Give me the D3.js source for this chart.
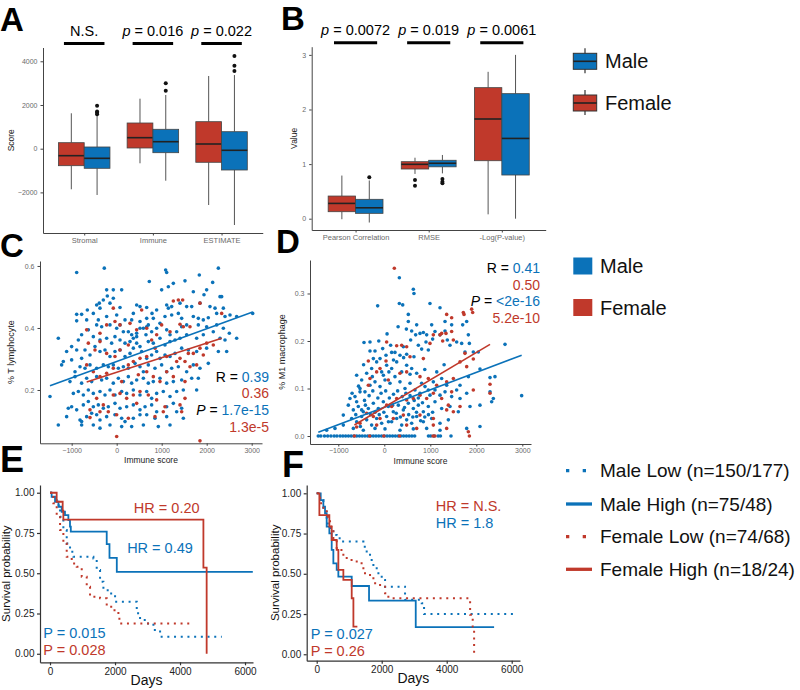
<!DOCTYPE html>
<html><head><meta charset="utf-8">
<script src="https://cdn.jsdelivr.net/npm/d3@7/dist/d3.min.js"></script>
<style>html,body{margin:0;padding:0;background:#fff;}</style>
</head><body>
<svg id="fig" width="800" height="690" xmlns="http://www.w3.org/2000/svg"></svg>
<script>
const RED = "#C0392B", BLUE = "#0B72B9";
const FONT = '"Liberation Sans", Arial, Helvetica, sans-serif';

// ---------- Panel A data (min, Q1, median, Q3, max) ----------
const scoreCats = ["Stromal", "Immune", "ESTIMATE"];
const scoreFemale = [[-1858,-778,-320,275,1620],[-668,32,504,1176,2289],[-2577,-622,215,1236,3327]];
const scoreMale = [[-2119,-897,-440,78,1500],[-1465,-183,320,888,2457],[-3492,-975,-73,778,3370]];
const scoreFemaleOut = [[],[],[]];
const scoreMaleOut = [[1960,1700,1640,1580],[2993,2655],[4243,3800,3556]];
const scoreP = ["N.S.","0.016","0.022"];
const scoreTicks = [-2000,0,2000,4000];

// ---------- Panel B data ----------
const valueCats = ["Pearson Correlation","RMSE","-Log(P-value)"];
const valueFemale = [[-0.01,0.128,0.28,0.415,0.79],[0.82,0.91,0.996,1.044,1.117],[0.08,1.062,1.826,2.4,2.69]];
const valueMale = [[-0.07,0.098,0.2,0.355,0.70],[0.83,0.95,1.015,1.07,1.167],[0.0,0.8,1.47,2.29,3.0]];
const valueFemaleOut = [[],[0.71,0.605],[]];
const valueMaleOut = [[0.76],[0.727,0.678,0.65],[]];
const valueP = ["0.0072","0.019","0.0061"];
const valueTicks = [0,1,2,3];

// ---------- Panel C data: [immune score, % T lymphocyte] ----------
const cMale = [[-889,0.579],[-275,0.593],[1088,0.587],[1111,0.579],[2259,0.593],[1836,0.571],[725,0.55],[1518,0.552],[2133,0.547],[1259,0.544],[1148,0.533],[999,0.523],[1703,0.517],[1999,0.523],[1940,0.507],[2296,0.501],[2333,0.501],[-223,0.523],[-75,0.523],[111,0.523],[-208,0.503],[-297,0.49],[-386,0.48],[-75,0.496],[-149,0.48],[-371,0.464],[74,0.466],[444,0.474],[518,0.469],[667,0.466],[370,0.447],[785,0.447],[888,0.458],[1111,0.474],[1148,0.464],[1222,0.469],[1407,0.48],[1555,0.469],[1667,0.469],[1851,0.48],[2073,0.469],[2185,0.464],[2370,0.464],[-889,0.444],[-779,0.444],[-652,0.458],[-519,0.447],[-445,0.474],[-408,0.426],[-223,0.437],[0,0.442],[185,0.426],[333,0.426],[518,0.421],[667,0.431],[814,0.431],[962,0.415],[1073,0.437],[1222,0.442],[1370,0.447],[1444,0.431],[1703,0.437],[1814,0.431],[1925,0.426],[2036,0.433],[2222,0.447],[2407,0.437],[2518,0.442],[2666,0.437],[3022,0.447],[-889,0.423],[-667,0.426],[-445,0.41],[-334,0.404],[-149,0.41],[0,0.399],[74,0.41],[148,0.388],[259,0.388],[333,0.378],[444,0.383],[518,0.399],[593,0.399],[667,0.404],[703,0.41],[370,0.367],[444,0.372],[651,0.378],[777,0.388],[888,0.399],[1111,0.394],[1185,0.378],[1333,0.388],[1444,0.404],[1555,0.41],[1814,0.41],[1999,0.404],[2222,0.41],[2370,0.399],[2503,0.383],[2666,0.367],[-1297,0.367],[-1112,0.324],[-1001,0.34],[-852,0.361],[-779,0.378],[-630,0.394],[-519,0.372],[-371,0.361],[-223,0.367],[-112,0.351],[-38,0.372],[74,0.361],[185,0.351],[296,0.356],[444,0.351],[518,0.34],[703,0.356],[814,0.351],[962,0.367],[1073,0.345],[1185,0.356],[1296,0.361],[1407,0.367],[1555,0.378],[1777,0.367],[1925,0.378],[2147,0.388],[2296,0.367],[2407,0.361],[2444,0.324],[-1186,0.292],[-1001,0.297],[-889,0.329],[-779,0.302],[-704,0.329],[-593,0.313],[-482,0.34],[-371,0.324],[-260,0.329],[-149,0.308],[-38,0.324],[74,0.329],[185,0.308],[296,0.318],[370,0.335],[555,0.324],[667,0.302],[777,0.313],[888,0.324],[962,0.302],[1073,0.313],[1185,0.308],[1296,0.318],[1444,0.335],[1592,0.329],[1777,0.324],[1999,0.335],[2259,0.324],[-1482,0.179],[-1223,0.281],[-926,0.259],[-815,0.275],[-704,0.27],[-593,0.281],[-445,0.27],[-297,0.281],[-186,0.275],[-75,0.281],[37,0.27],[148,0.275],[259,0.27],[407,0.286],[518,0.275],[593,0.259],[703,0.281],[851,0.27],[999,0.281],[1111,0.259],[1222,0.27],[1370,0.275],[1555,0.259],[1703,0.281],[1851,0.27],[2036,0.286],[-1038,0.227],[-926,0.243],[-779,0.222],[-667,0.238],[-556,0.227],[-445,0.243],[-334,0.232],[-223,0.238],[-75,0.222],[37,0.238],[148,0.227],[259,0.243],[333,0.222],[444,0.232],[593,0.238],[703,0.222],[814,0.227],[962,0.238],[1111,0.222],[1259,0.227],[1444,0.232],[1667,0.238],[1814,0.238],[-963,0.189],[-852,0.195],[-741,0.184],[-630,0.2],[-519,0.189],[-371,0.195],[-260,0.184],[-149,0.2],[-38,0.184],[111,0.195],[222,0.189],[370,0.2],[518,0.184],[667,0.195],[777,0.173],[888,0.189],[1036,0.195],[1185,0.179],[1333,0.195],[1481,0.2],[1777,0.2],[-1075,0.141],[-1001,0.146],[-889,0.136],[-741,0.152],[-630,0.163],[-519,0.146],[-408,0.152],[-297,0.141],[-186,0.146],[-38,0.157],[74,0.141],[222,0.146],[370,0.152],[518,0.136],[630,0.146],[777,0.152],[888,0.13],[1111,0.146],[1259,0.157],[1444,0.141],[-1297,0.087],[-1112,0.114],[-815,0.103],[-779,0.098],[-667,0.114],[-556,0.125],[-445,0.12],[-371,0.103],[-223,0.114],[-38,0.12],[111,0.109],[185,0.098],[370,0.109],[518,0.12],[667,0.12],[851,0.109],[1111,0.114],[1333,0.13],[1481,0.109],[-779,0.087],[-519,0.087],[-371,0.077],[-149,0.087],[111,0.082],[333,0.082],[593,0.087],[925,0.082],[1185,0.087]];
const cFemale = [[-75,0.464],[555,0.458],[1259,0.487],[1370,0.49],[1466,0.49],[1851,0.48],[2333,0.447],[-667,0.394],[-371,0.383],[-223,0.41],[-38,0.421],[74,0.41],[296,0.415],[444,0.394],[667,0.399],[777,0.361],[888,0.378],[999,0.41],[1185,0.388],[1407,0.412],[1481,0.404],[1629,0.404],[-630,0.351],[-482,0.329],[-371,0.356],[-223,0.318],[-38,0.308],[74,0.329],[259,0.345],[370,0.292],[518,0.302],[667,0.308],[851,0.335],[1111,0.308],[1333,0.292],[1407,0.302],[1518,0.292],[1592,0.318],[1703,0.318],[1851,0.335],[1999,0.351],[2147,0.345],[-667,0.281],[-519,0.259],[-371,0.243],[-223,0.254],[-75,0.27],[111,0.227],[259,0.281],[481,0.249],[667,0.259],[814,0.243],[962,0.227],[1111,0.259],[1259,0.243],[1518,0.227],[1629,0.275],[1777,0.281],[1925,0.313],[-593,0.136],[-445,0.173],[-297,0.152],[-75,0.184],[74,0.189],[222,0.173],[370,0.184],[518,0.195],[703,0.184],[888,0.168],[1073,0.146],[1407,0.152],[1518,0.173],[-593,0.111],[-371,0.13],[-186,0.13],[0,0.12],[259,0.109],[444,0.157],[851,0.114],[1036,0.13],[1444,0.13],[0,0.05],[1851,0.036]];
const cFitMale = [0.292, 0.0000528];     // intercept, slope
const cFitFemale = [0.257, 0.000047];
const cR = ["0.39","0.36"], cP = ["1.7e-15","1.3e-5"];

// ---------- Panel D data: [immune score, % M1 macrophage] ----------
const dMale = [[327,0.333],[631,0.309],[645,0.3],[327,0.279],[400,0.276],[-144,0.274],[993,0.279],[1211,0.27],[849,0.218],[776,0.216],[522,0.256],[522,0.241],[704,0.234],[595,0.221],[-441,0.197],[-202,0.179],[160,0.176],[232,0.176],[341,0.17],[486,0.172],[645,0.167],[740,0.191],[812,0.183],[906,0.198],[957,0.181],[1051,0.204],[1211,0.213],[1320,0.221],[1370,0.202],[1428,0.191],[1573,0.198],[1682,0.195],[1827,0.213],[1849,0.195],[1754,0.177],[1935,0.177],[2044,0.177],[2624,0.193],[2080,0.141],[2298,0.123],[2406,0.125],[2298,0.093],[2370,0.079],[2334,0.072],[2986,0.085],[2080,0.065],[1827,0.125],[1646,0.107],[1573,0.097],[1356,0.107],[1247,0.121],[1066,0.114],[957,0.097],[812,0.111],[704,0.132],[595,0.142],[486,0.149],[378,0.135],[269,0.156],[160,0.142],[51,0.149],[-57,0.135],[-166,0.156],[-275,0.142],[-383,0.132],[-492,0.118],[-601,0.128],[-746,0.079],[-637,0.083],[-528,0.1],[-420,0.093],[-311,0.107],[-202,0.114],[-93,0.104],[15,0.118],[124,0.111],[232,0.125],[341,0.114],[450,0.1],[559,0.111],[667,0.097],[776,0.09],[885,0.104],[993,0.086],[1102,0.097],[1211,0.086],[1320,0.093],[1464,0.083],[1646,0.079],[1791,0.09],[-782,0.065],[-673,0.055],[-565,0.062],[-456,0.051],[-347,0.058],[-238,0.069],[-130,0.058],[-21,0.072],[88,0.062],[196,0.051],[305,0.065],[414,0.055],[522,0.069],[631,0.058],[740,0.065],[849,0.051],[957,0.062],[1102,0.072],[1247,0.058],[1428,0.062],[1609,0.051],[1863,0.062],[-891,0.044],[-709,0.037],[-601,0.03],[-492,0.041],[-383,0.034],[-275,0.023],[-166,0.037],[-57,0.027],[51,0.041],[160,0.03],[269,0.037],[378,0.023],[486,0.034],[595,0.027],[704,0.041],[849,0.03],[1030,0.037],[1211,0.027],[1392,0.034],[-891,0.023],[-1072,0.016],[-1253,0.012],[-673,0.016],[-456,0.012],[-202,0.016],[15,0.015],[341,0.012],[631,0.015],[921,0.016],[1211,0.012],[1791,0.016],[2080,0.02],[-311,0.179],[-238,0.163],[-93,0.163],[-35,0.184],[37,0.17],[138,0.191],[414,0.188],[573,0.202],[682,0.213],[921,0.213],[1030,0.234],[1102,0.22],[1320,0.241],[1464,0.234],[1704,0.234],[1791,0.241],[-311,0.198],[-528,0.093],[-601,0.072],[-492,0.055],[-700,0.09],[-560,0.105],[-430,0.075],[-330,0.085],[-250,0.095],[-140,0.08],[-70,0.09],[30,0.095],[110,0.08],[200,0.088],[290,0.095],[390,0.083],[470,0.09],[560,0.085],[650,0.075],[740,0.08],[830,0.07],[-620,0.045],[-520,0.02],[-410,0.065],[-300,0.045],[-200,0.05],[-110,0.045],[-10,0.05],[90,0.03],[180,0.065],[260,0.048],[350,0.04],[440,0.06],[530,0.045],[620,0.04],[700,0.05],[790,0.032],[880,0.04],[960,0.045],[1050,0.05],[-450,0.15],[-260,0.125],[-20,0.128],[100,0.135],[200,0.16],[420,0.165],[560,0.13],[880,0.14],[1140,0.135],[1300,0.15],[-120,0.2],[60,0.215],[300,0.23],[480,0.225],[-1435,0],[-1380,0],[-1300,0],[-1230,0],[-1160,0],[-1090,0],[-1030,0],[-960,0],[-900,0],[-840,0],[-780,0],[-720,0],[-660,0],[-600,0],[-540,0],[-480,0],[-420,0],[-360,0],[-300,0],[-240,0],[-180,0],[-120,0],[-60,0],[0,0],[60,0],[120,0],[180,0],[240,0],[300,0],[360,0],[420,0],[480,0],[540,0],[600,0],[660,0],[960,0],[1010,0],[1080,0],[1170,0],[1220,0],[1450,0]];
const dFemale = [[218,0.353],[1356,0.256],[1464,0.249],[1718,0.26],[1733,0.256],[1899,0.267],[1921,0.26],[1066,0.213],[1247,0.216],[-347,0.158],[51,0.198],[37,0.158],[269,0.19],[378,0.191],[486,0.188],[559,0.167],[849,0.163],[993,0.195],[1211,0.213],[1269,0.2],[1341,0.216],[1464,0.22],[1501,0.202],[1646,0.156],[1754,0.174],[1935,0.162],[-347,0.107],[-311,0.121],[-166,0.135],[-93,0.142],[88,0.118],[341,0.132],[486,0.135],[776,0.125],[957,0.121],[1138,0.107],[1356,0.114],[1501,0.121],[1791,0.146],[1935,0.097],[2298,0.109],[2298,0.09],[269,0.079],[486,0.076],[631,0.079],[776,0.086],[921,0.079],[1066,0.09],[1247,0.079],[1392,0.065],[1464,0.093],[51,0.065],[160,0.062],[-383,0.048],[-238,0.041],[-93,0.037],[196,0.037],[414,0.044],[776,0.044],[1066,0.037],[1356,0.055],[1501,0.051],[1646,0.062],[-528,0.027],[-601,0.019],[-166,0.023],[486,0.023],[704,0.016],[1066,0.023],[1356,0.016],[1827,0.009],[-650,0],[-320,0],[-10,0],[330,0],[1060,0],[1100,0],[1850,0]];
const dFitMale = [0.0605, 0.0000367];
const dFitFemale = [0.0606, 0.0000576];
const dR = ["0.41","0.50"], dP = ["<2e-16","5.2e-10"];

// ---------- Panel E/F data: Kaplan-Meier steps [days, survival] ----------
const eMaleLow = [[0,1],[103,0.954],[206,0.923],[309,0.851],[411,0.768],[514,0.685],[617,0.633],[719,0.602],[1335,0.592],[1437,0.52],[1540,0.447],[1643,0.395],[1848,0.375],[2002,0.323],[2669,0.251],[2771,0.209],[2977,0.188],[3182,0.147],[3387,0.106],[5285,0.106]];
const eMaleHigh = [[0,1],[50,0.975],[155,0.944],[260,0.913],[360,0.882],[460,0.861],[565,0.83],[615,0.789],[640,0.758],[1745,0.681],[1830,0.596],[2055,0.509],[6240,0.509]];
const eFemaleLow = [[0,1],[103,0.934],[206,0.862],[309,0.768],[411,0.685],[514,0.602],[668,0.561],[822,0.54],[976,0.478],[1130,0.416],[1232,0.354],[1540,0.344],[1745,0.292],[1950,0.271],[2104,0.23],[2135,0.188],[4310,0.188]];
const eFemaleHigh = [[0,1],[205,0.944],[390,0.889],[410,0.833],[4720,0.535],[4820,0]];
const fMaleLow = [[0,1],[102,0.958],[205,0.886],[307,0.813],[410,0.772],[512,0.741],[615,0.72],[769,0.7],[1436,0.668],[1538,0.627],[1641,0.586],[1744,0.544],[1846,0.503],[2000,0.462],[2103,0.42],[2718,0.338],[3231,0.317],[3303,0.25],[6155,0.25]];
const fMaleHigh = [[0,1],[123,0.958],[205,0.917],[256,0.875],[307,0.793],[389,0.751],[461,0.648],[512,0.565],[615,0.524],[666,0.482],[1077,0.424],[1610,0.333],[3047,0.168],[5458,0.168]];
const fFemaleLow = [[0,1],[102,0.938],[205,0.896],[307,0.855],[410,0.793],[512,0.71],[615,0.648],[820,0.607],[923,0.586],[1231,0.565],[1436,0.503],[1641,0.483],[1744,0.441],[1950,0.42],[2103,0.379],[2205,0.348],[4720,0.245],[4800,0.172],[4843,0]];
const fFemaleHigh = [[0,1],[82,0.865],[389,0.793],[461,0.71],[615,0.648],[666,0.524],[820,0.462],[1077,0.348],[1129,0.172],[1251,0.172]];
const survTicksX = [0,2000,4000,6000];
const survTicksY = [0,0.25,0.5,0.75,1];
const survLegend = ["Male Low (n=150/177)","Male High (n=75/48)","Female Low (n=74/68)","Female High (n=18/24)"];
const eHR = ["0.20","0.49"], eP = ["0.015","0.028"];
const fHR = ["N.S.","1.8"], fP = ["0.027","0.26"];
const sexLabels = ["Male","Female"];

const svg = d3.select("#fig").attr("font-family", FONT);
const TICKGRAY = "#6a6a6a";

function styleAxis(a, lineColor, fs, textColor, lw) {
  a.attr("font-family", FONT).attr("font-size", fs);
  a.select(".domain").attr("stroke", lineColor).attr("stroke-width", lw);
  a.selectAll(".tick line").attr("stroke", lineColor).attr("stroke-width", lw);
  a.selectAll(".tick text").attr("fill", textColor);
}

function letter(t, x, y, fs) {
  svg.append("text").attr("x", x).attr("y", y).attr("font-size", fs || 33)
    .attr("font-weight", "bold").attr("fill", "#000").text(t);
}

// ---------- Box panels ----------
function boxPanel(o) {
  const g = svg.append("g");
  const x = d3.scalePoint().domain(o.cats).range([o.x0, o.x1]).padding(0.6);
  const step = x.step(), bw = step * 0.375;
  const y = d3.scaleLinear().domain(o.yDomain).range([o.y1, o.y0]);
  const ya = g.append("g").attr("transform", `translate(${o.x0},0)`)
    .call(d3.axisLeft(y).tickValues(o.yTicks).tickSize(2.5).tickSizeOuter(0).tickPadding(3).tickFormat(o.fmt));
  styleAxis(ya, "#444", 7, TICKGRAY, 1);
  const xa = g.append("g").attr("transform", `translate(0,${o.y1})`)
    .call(d3.axisBottom(x).tickSize(2.5).tickSizeOuter(0).tickPadding(2));
  styleAxis(xa, "#444", 7.5, TICKGRAY, 1);
  g.append("text").attr("transform", `translate(${o.labX},${(o.y0 + o.y1) / 2}) rotate(-90)`)
    .attr("text-anchor", "middle").attr("font-size", 8.5).attr("fill", "#222").text(o.ylab);
  const groups = [
    { stats: o.fem, out: o.femOut, color: RED, dx: -bw / 2 },
    { stats: o.male, out: o.maleOut, color: BLUE, dx: bw / 2 }];
  groups.forEach(gr => {
    o.cats.forEach((c, i) => {
      const s = gr.stats[i], cx = x(c) + gr.dx;
      g.append("line").attr("x1", cx).attr("x2", cx).attr("y1", y(s[0])).attr("y2", y(s[1])).attr("stroke", "#555").attr("stroke-width", 1);
      g.append("line").attr("x1", cx).attr("x2", cx).attr("y1", y(s[3])).attr("y2", y(s[4])).attr("stroke", "#555").attr("stroke-width", 1);
      g.append("rect").attr("x", cx - bw / 2).attr("y", y(s[3])).attr("width", bw).attr("height", y(s[1]) - y(s[3]))
        .attr("fill", gr.color).attr("stroke", "#444").attr("stroke-width", 0.8);
      g.append("line").attr("x1", cx - bw / 2).attr("x2", cx + bw / 2).attr("y1", y(s[2])).attr("y2", y(s[2])).attr("stroke", "#222").attr("stroke-width", 1.6);
      gr.out[i].forEach(v => g.append("circle").attr("cx", cx).attr("cy", y(v)).attr("r", 2).attr("fill", "#111"));
    });
  });
  o.cats.forEach((c, i) => {
    const cx = x(c);
    g.append("line").attr("x1", cx - 0.295 * step).attr("x2", cx + 0.295 * step)
      .attr("y1", o.y0 - 4).attr("y2", o.y0 - 4).attr("stroke", "#000").attr("stroke-width", 3);
    const t = g.append("text").attr("x", cx).attr("y", o.y0 - 12).attr("text-anchor", "middle").attr("font-size", 14.5).attr("fill", "#000");
    if (o.pvals[i] === "N.S.") t.text("N.S.");
    else { t.append("tspan").attr("font-style", "italic").text("p"); t.append("tspan").text(" = " + o.pvals[i]); }
  });
}

boxPanel({ cats: scoreCats, fem: scoreFemale, male: scoreMale, femOut: scoreFemaleOut, maleOut: scoreMaleOut,
  yDomain: [-3858, 4631], yTicks: scoreTicks, fmt: d3.format("d"), x0: 43, x1: 262.75, y0: 47.5, y1: 233,
  ylab: "Score", labX: 14, pvals: scoreP });
boxPanel({ cats: valueCats, fem: valueFemale, male: valueMale, femOut: valueFemaleOut, maleOut: valueMaleOut,
  yDomain: [-0.207, 3.15], yTicks: valueTicks, fmt: d3.format("d"), x0: 311.7, x1: 545.7, y0: 46.7, y1: 230,
  ylab: "Value", labX: 297, pvals: valueP });

// ---------- Scatter panels ----------
function scatterPanel(o) {
  const g = svg.append("g");
  const x = d3.scaleLinear().domain(o.xDomain).range([o.x0, o.x1]);
  const y = d3.scaleLinear().domain(o.yDomain).range([o.y1, o.y0]);
  const ya = g.append("g").attr("transform", `translate(${o.x0},0)`)
    .call(d3.axisLeft(y).tickValues(o.yTicks).tickSize(2.5).tickSizeOuter(0).tickPadding(3).tickFormat(d3.format(".1f")));
  styleAxis(ya, "#444", 7, TICKGRAY, 1);
  const xa = g.append("g").attr("transform", `translate(0,${o.y1})`)
    .call(d3.axisBottom(x).tickValues([-1000, 0, 1000, 2000, 3000]).tickSize(2.5).tickSizeOuter(0).tickPadding(2).tickFormat(d3.format("d")));
  styleAxis(xa, "#444", 7, TICKGRAY, 1);
  g.append("text").attr("x", (o.x0 + o.x1) / 2).attr("y", o.y1 + 20).attr("text-anchor", "middle").attr("font-size", 8.5).attr("fill", "#222").text("Immune score");
  g.append("text").attr("transform", `translate(${o.labX},${(o.y0 + o.y1) / 2}) rotate(-90)`)
    .attr("text-anchor", "middle").attr("font-size", 9).attr("fill", "#222").text(o.ylab);
  g.append("g").selectAll("circle").data(o.male).join("circle")
    .attr("cx", d => x(d[0])).attr("cy", d => y(d[1])).attr("r", 1.8).attr("fill", BLUE);
  g.append("g").selectAll("circle").data(o.female).join("circle")
    .attr("cx", d => x(d[0])).attr("cy", d => y(d[1])).attr("r", 1.8).attr("fill", RED);
  [[o.male, o.fitMale, BLUE], [o.female, o.fitFemale, RED]].forEach(([data, fit, col]) => {
    const ext = d3.extent(data, d => d[0]);
    g.append("line").attr("x1", x(ext[0])).attr("y1", y(fit[0] + fit[1] * ext[0]))
      .attr("x2", x(ext[1])).attr("y2", y(fit[0] + fit[1] * ext[1])).attr("stroke", col).attr("stroke-width", 1.6);
  });
  const lines = [
    [["R = ", "#000", false], [o.R[0], BLUE, false]],
    [[o.R[1], RED, false]],
    [["P", "#000", true], [" = ", "#000", false], [o.P[0], BLUE, false]],
    [[o.P[1], RED, false]]];
  lines.forEach((segs, i) => {
    const t = g.append("text").attr("x", o.annX).attr("y", o.annY + i * o.annStep).attr("text-anchor", "end").attr("font-size", 14);
    segs.forEach(s => t.append("tspan").attr("fill", s[1]).attr("font-style", s[2] ? "italic" : "normal").text(s[0]));
  });
}

scatterPanel({ male: cMale, female: cFemale, fitMale: cFitMale, fitFemale: cFitFemale,
  xDomain: [-1704, 3229], yDomain: [0.0281, 0.616], yTicks: [0.2, 0.4, 0.6], x0: 40, x1: 262, y0: 261, y1: 443.3,
  ylab: "% T lymphocyte", labX: 14, R: cR, P: cP, annX: 269, annY: 381.7, annStep: 16.7 });
scatterPanel({ male: dMale, female: dFemale, fitMale: dFitMale, fitFemale: dFitFemale,
  xDomain: [-1615, 3189], yDomain: [-0.0168, 0.3705], yTicks: [0, 0.1, 0.2, 0.3], x0: 310, x1: 531, y0: 260, y1: 444,
  ylab: "% M1 macrophage", labX: 285, R: dR, P: dP, annX: 540, annY: 273.3, annStep: 16.5 });

// ---------- Survival panels ----------
function survPanel(o) {
  const g = svg.append("g");
  const x = d3.scaleLinear().domain(o.xDomain).range([o.x0, o.x1]);
  const y = d3.scaleLinear().domain(o.yDomain).range([o.y1, o.y0]);
  const ya = g.append("g").attr("transform", `translate(${o.x0},0)`)
    .call(d3.axisLeft(y).tickValues(survTicksY).tickSize(3).tickSizeOuter(0).tickPadding(2.5).tickFormat(d3.format(".2f")));
  styleAxis(ya, "#333", 10, "#222", 1.2);
  const xa = g.append("g").attr("transform", `translate(0,${o.y1})`)
    .call(d3.axisBottom(x).tickValues(survTicksX).tickSize(3).tickSizeOuter(0).tickPadding(2.5).tickFormat(d3.format("d")));
  styleAxis(xa, "#333", 10, "#222", 1.2);
  g.append("text").attr("x", (o.x0 + o.x1) / 2).attr("y", o.y1 + 22.5).attr("text-anchor", "middle").attr("font-size", 14).attr("fill", "#111").text("Days");
  g.append("text").attr("transform", `translate(${o.labX},${(o.y0 + o.y1) / 2}) rotate(-90)`)
    .attr("text-anchor", "middle").attr("font-size", 11.5).attr("fill", "#111").text("Survival probability");
  const line = d3.line().x(d => x(d[0])).y(d => y(d[1])).curve(d3.curveStepAfter);
  o.curves.forEach(c => {
    g.append("path").attr("d", line(c.data)).attr("fill", "none").attr("stroke", c.color)
      .attr("stroke-width", c.dash ? 2 : 1.8).attr("stroke-dasharray", c.dash ? "2,4.7" : null);
  });
  o.texts.forEach(t => {
    g.append("text").attr("x", t[0]).attr("y", t[1]).attr("text-anchor", t[2]).attr("font-size", 14.5).attr("fill", t[3]).text(t[4]);
  });
}

survPanel({ xDomain: [-308, 6246], yDomain: [-0.053, 1.048], x0: 40, x1: 253, y0: 485, y1: 662.3, labX: 10,
  curves: [{ data: eMaleLow, color: BLUE, dash: true }, { data: eMaleHigh, color: BLUE, dash: false },
           { data: eFemaleLow, color: RED, dash: true }, { data: eFemaleHigh, color: RED, dash: false }],
  texts: [[166.7, 513.3, "middle", RED, "HR = " + eHR[0]], [160, 552.7, "middle", BLUE, "HR = " + eHR[1]],
          [43.3, 638.3, "start", BLUE, "P = " + eP[0]], [43.3, 655, "start", RED, "P = " + eP[1]]] });
survPanel({ xDomain: [-308, 6255], yDomain: [-0.04, 1.0516], x0: 306.7, x1: 520, y0: 485, y1: 660.7, labX: 279,
  curves: [{ data: fMaleLow, color: BLUE, dash: true }, { data: fMaleHigh, color: BLUE, dash: false },
           { data: fFemaleLow, color: RED, dash: true }, { data: fFemaleHigh, color: RED, dash: false }],
  texts: [[435.7, 511, "start", RED, "HR = " + fHR[0]], [435.7, 528.3, "start", BLUE, "HR = " + fHR[1]],
          [310.7, 639.3, "start", BLUE, "P = " + fP[0]], [310.7, 656, "start", RED, "P = " + fP[1]]] });

// ---------- Legends ----------
[[BLUE, 61.3], [RED, 103]].forEach(([col, cy], i) => {
  const g = svg.append("g");
  g.append("line").attr("x1", 585).attr("x2", 585).attr("y1", cy - 13).attr("y2", cy + 12).attr("stroke", "#333").attr("stroke-width", 1.2);
  g.append("rect").attr("x", 573.3).attr("y", cy - 8).attr("width", 23.4).attr("height", 16).attr("fill", col).attr("stroke", "#333").attr("stroke-width", 1);
  g.append("line").attr("x1", 573.3).attr("x2", 596.7).attr("y1", cy).attr("y2", cy).attr("stroke", "#222").attr("stroke-width", 1.6);
  g.append("text").attr("x", 605).attr("y", cy + 7).attr("font-size", 20).attr("fill", "#111").text(sexLabels[i]);
});
[[BLUE, 266], [RED, 307.5]].forEach(([col, cy], i) => {
  svg.append("rect").attr("x", 573.3).attr("y", cy - 8.5).attr("width", 19).attr("height", 17).attr("fill", col);
  svg.append("text").attr("x", 600).attr("y", cy + 7).attr("font-size", 20).attr("fill", "#111").text(sexLabels[i]);
});
[[BLUE, true, 470.7], [BLUE, false, 504], [RED, true, 536.7], [RED, false, 569.3]].forEach(([col, dash, cy], i) => {
  svg.append("line").attr("x1", 566).attr("x2", 592).attr("y1", cy).attr("y2", cy).attr("stroke", col)
    .attr("stroke-width", 3.3).attr("stroke-dasharray", dash ? "3.3,13.4" : null);
  svg.append("text").attr("x", 600).attr("y", cy + 6.7).attr("font-size", 19).attr("fill", "#111").text(survLegend[i]);
});

// ---------- Panel letters ----------
letter("A", 0, 31); letter("B", 281, 30); letter("C", 0, 257); letter("D", 276, 253);
letter("E", 0, 472, 36); letter("F", 282, 477, 36);
</script>
</body></html>
